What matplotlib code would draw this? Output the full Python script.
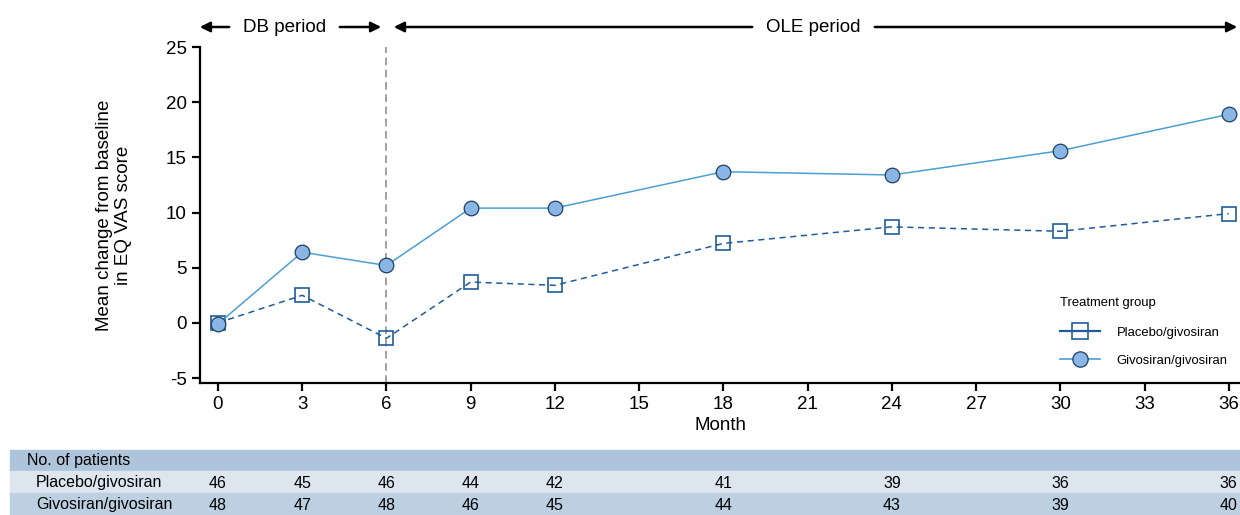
import numpy as np
import matplotlib
matplotlib.use('Agg')
import matplotlib.pyplot as plt
from matplotlib.patches import Rectangle, FancyArrowPatch
from matplotlib.lines import Line2D
import matplotlib.transforms as mtransforms

plt.rcParams['font.family'] = ['Liberation Sans', 'DejaVu Sans']
plt.rcParams['axes.unicode_minus'] = False

months = [0, 3, 6, 9, 12, 18, 24, 30, 36]
placebo = [0.0, 2.5, -1.4, 3.7, 3.4, 7.2, 8.7, 8.3, 9.9]
givosiran = [-0.1, 6.4, 5.2, 10.4, 10.4, 13.7, 13.4, 15.6, 18.9]
n_placebo = [46, 45, 46, 44, 42, 41, 39, 36, 36]
n_givosiran = [48, 47, 48, 46, 45, 44, 43, 39, 40]
xticks = list(range(0, 37, 3))
yticks = [-5, 0, 5, 10, 15, 20, 25]

dark = '#1f5c99'
light = '#4a9fd4'
fill = '#8ab6e6'
fs = 13.5

fig = plt.figure(figsize=(12.4, 5.15), dpi=100)
W, H = 1240, 515
ax = fig.add_axes([200 / W, 1 - 383 / H, (1240 - 200) / W, (383 - 47) / H])
ax.set_xlim(-0.64, 36.4)
ax.set_ylim(-5.45, 25)

ax.plot(months, placebo, color=dark, lw=1.1, ls=(0, (4, 3)), marker='s', ms=10,
        mfc='none', mec=dark, mew=1.2, clip_on=False, zorder=3)
ax.plot(months, givosiran, color=light, lw=1.1, marker='o', ms=10.5,
        mfc=fill, mec='#1d3f63', mew=0.9, clip_on=False, zorder=4)

ax.plot([6, 6], [-5.45, 25], color='#888888', lw=1.1, ls=(0, (5, 3)), clip_on=False, zorder=1)

for s in ['top', 'right']:
    ax.spines[s].set_visible(False)
ax.spines['left'].set_linewidth(1.6)
ax.spines['bottom'].set_linewidth(1.6)
ax.set_xticks(xticks)
ax.set_yticks(yticks)
ax.tick_params(width=1.6, length=6, labelsize=fs)
ax.set_xlabel('Month', fontsize=fs, labelpad=3)
ax.set_ylabel('Mean change from baseline\nin EQ VAS score', fontsize=fs, labelpad=24)

# period arrows
ya = 1 - 27 / H
def fx(px):
    return px / W
arrow_kw = dict(arrowstyle='-|>', color='black', lw=1.8, mutation_scale=15)
fig.patches.append(FancyArrowPatch((fx(232), ya), (fx(197), ya), transform=fig.transFigure, **arrow_kw))
fig.patches.append(FancyArrowPatch((fx(337), ya), (fx(384), ya), transform=fig.transFigure, **arrow_kw))
fig.text(fx(285), ya, 'DB period', ha='center', va='center', fontsize=fs)
fig.patches.append(FancyArrowPatch((fx(755), ya), (fx(391), ya), transform=fig.transFigure, **arrow_kw))
fig.patches.append(FancyArrowPatch((fx(872), ya), (fx(1240), ya), transform=fig.transFigure, **arrow_kw))
fig.text(fx(813), ya, 'OLE period', ha='center', va='center', fontsize=fs)

# legend
handles = [Line2D([], [], color=dark, lw=1.6, marker='s', ms=11, mfc='none', mec=dark, mew=1.2),
           Line2D([], [], color=light, lw=1.2, marker='o', ms=11, mfc=fill, mec='#1d3f63', mew=0.9)]
leg = ax.legend(handles, ['Placebo/givosiran', 'Givosiran/givosiran'], title='Treatment group',
                loc='upper left', bbox_to_anchor=(1048 / W, 1 - 285 / H), bbox_transform=fig.transFigure,
                frameon=False, fontsize=9.4, title_fontsize=9.4, handlelength=3.1, labelspacing=1.2,
                handletextpad=1.25, alignment='left')
leg._legend_box.sep = 13

# number of patients table
rows = [(450, 471, '#adc4da'), (471, 493, '#dde5ef'), (493, 515, '#bcd0e2')]
for top, bot, c in rows:
    fig.patches.append(Rectangle((10 / W, 1 - bot / H), (1240 - 10) / W, (bot - top) / H,
                                 transform=fig.transFigure, color=c, zorder=0))
tfs = 11.5
tr = mtransforms.blended_transform_factory(ax.transData, fig.transFigure)
fig.text(27 / W, 1 - 461 / H, 'No. of patients', ha='left', va='center', fontsize=tfs, zorder=5)
fig.text(36 / W, 1 - 483 / H, 'Placebo/givosiran', ha='left', va='center', fontsize=tfs, zorder=5)
fig.text(36 / W, 1 - 505 / H, 'Givosiran/givosiran', ha='left', va='center', fontsize=tfs, zorder=5)
for m, a, b in zip(months, n_placebo, n_givosiran):
    fig.text(m, 1 - 483 / H, str(a), transform=tr, ha='center', va='center', fontsize=tfs, zorder=5)
    fig.text(m, 1 - 505 / H, str(b), transform=tr, ha='center', va='center', fontsize=tfs, zorder=5)

fig.savefig('out.png', dpi=100)
